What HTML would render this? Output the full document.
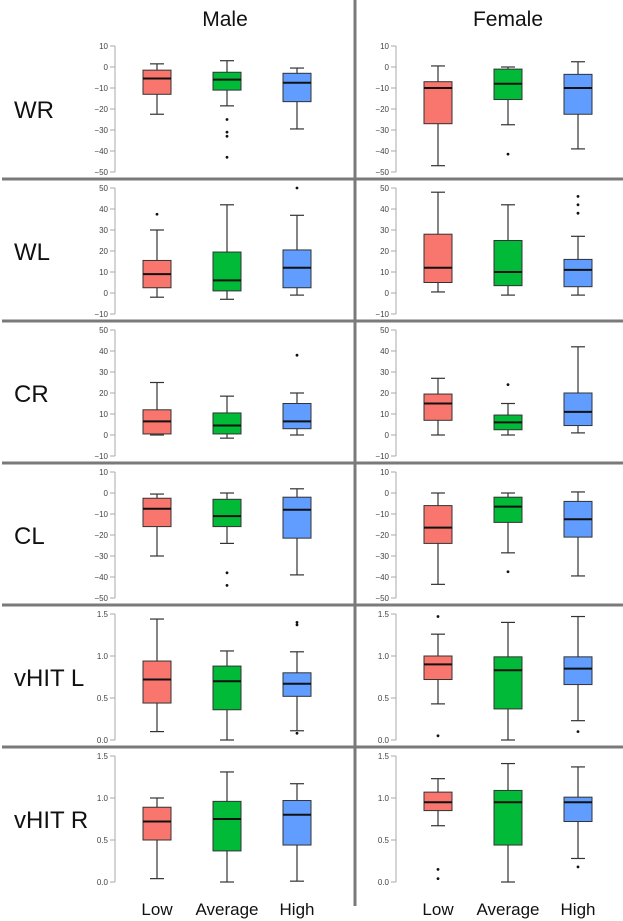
<!DOCTYPE html>
<html><head><meta charset="utf-8"><style>
html,body{margin:0;padding:0;background:#fff;}
svg{display:block;font-family:"Liberation Sans",Arial,sans-serif;}
</style></head><body>
<svg id="chart" width="623" height="921" viewBox="0 0 623 921" xmlns="http://www.w3.org/2000/svg"></svg>
<script>
const sexes = ["Male","Female"];
const measures = ["WR","WL","CR","CL","vHIT L","vHIT R"];
const groups = ["Low","Average","High"];
const colors = ["#F8766D","#00BA38","#619CFF"];
const domains = [[-50,10],[-10,50],[-10,50],[-50,10],[0,1.5],[0,1.5]];
const tickSets = [[-50,-40,-30,-20,-10,0,10],[-10,0,10,20,30,40,50],[-10,0,10,20,30,40,50],[-50,-40,-30,-20,-10,0,10],[0,0.5,1,1.5],[0,0.5,1,1.5]];
// [whiskerLow, q1, median, q3, whiskerHigh, outliers]
const maleStats = [
 [[-22.5,-13,-5.5,-1.5,1.5,[]],[-18.5,-11,-6,-2.5,3,[-25,-31,-33,-43]],[-29.5,-16.5,-7.5,-3,-0.5,[]]],
 [[-2,2.5,9,15.5,30,[37.5]],[-3,1,6,19.5,42,[]],[-1,2.5,12,20.5,37,[50]]],
 [[0,0.5,6.5,12,25,[]],[-1.5,0.5,4.5,10.5,18.5,[]],[0,3,6.5,15,20,[38]]],
 [[-30,-16,-7.5,-2.5,-0.5,[]],[-24,-16,-11,-3,0,[-38,-44]],[-39,-21.5,-8,-2,2,[]]],
 [[0.1,0.44,0.72,0.94,1.44,[]],[0,0.36,0.70,0.88,1.06,[]],[0.11,0.52,0.67,0.80,1.05,[1.37,1.40,0.08]]],
 [[0.04,0.5,0.72,0.89,1.0,[]],[0,0.37,0.75,0.96,1.31,[]],[0.01,0.44,0.80,0.97,1.17,[]]]
];
const femaleStats = [
 [[-47,-27,-10,-7,0.5,[]],[-27.5,-15.5,-8,-1,0,[-41.5]],[-39,-22.5,-10,-3.5,2.5,[]]],
 [[0.5,5,12,28,48,[]],[-1,3.5,10,25,42,[]],[-1,3,11,16,27,[38,42,46]]],
 [[0,7,15,19.5,27,[]],[0,2.5,6,9.5,15,[24]],[1,4.5,11,20,42,[]]],
 [[-43.5,-24,-16.5,-6,0,[]],[-28.5,-14,-6.5,-2,0,[-37.5]],[-39.5,-21,-12.5,-4,0.5,[]]],
 [[0.43,0.72,0.90,1.0,1.26,[1.47,0.05]],[0,0.37,0.83,0.99,1.40,[]],[0.23,0.66,0.85,0.99,1.47,[0.10]]],
 [[0.67,0.85,0.95,1.07,1.23,[0.15,0.04]],[0,0.44,0.95,1.09,1.41,[]],[0.28,0.72,0.95,1.01,1.37,[0.18]]]
];
const allStats = [maleStats, femaleStats];

const svg = document.getElementById('chart');
const NS = 'http://www.w3.org/2000/svg';
function mk(tag, attrs, parent, text){
  const e = document.createElementNS(NS, tag);
  for (const k in attrs) e.setAttribute(k, attrs[k]);
  if (text !== undefined) e.textContent = text;
  (parent||svg).appendChild(e);
  return e;
}
const ROW0 = 46, ROWSTEP = 142, ROWH = 126;
const AXIS_X = [115, 396];
const BOX_X = [[157,227,297],[438,508,578]];
const BW = 28;
function yScale(r, v){
  const d = domains[r];
  return ROW0 + r*ROWSTEP + ROWH - (v - d[0])/(d[1]-d[0])*ROWH;
}
function fmt(r, v){
  if (r >= 4) return v.toFixed(1);
  return v < 0 ? '\u2212' + Math.abs(v) : String(v);
}

// titles
sexes.forEach((s, si) => {
  const t = mk('text', {x: si===0?225:508, y: 26, 'text-anchor':'middle', 'font-size':21, fill:'#111'}, svg, s);
  
  
});
// row labels
measures.forEach((m, r) => {
  const t = mk('text', {x: 14, y: ROW0 + r*ROWSTEP + 72, 'font-size':24, fill:'#111'}, svg, m);
  
  
});

for (let si = 0; si < 2; si++){
  for (let r = 0; r < 6; r++){
    const g = mk('g', {});
    
    
    const ax = AXIS_X[si];
    const ticks = tickSets[r];
    const axl = mk('line', {x1:ax, x2:ax, y1:yScale(r, ticks[0]), y2:yScale(r, ticks[ticks.length-1]), stroke:'#aaa', 'stroke-width':1}, g);
    
    
    ticks.forEach(tv => {
      const y = yScale(r, tv);
      mk('line', {x1:ax-5, x2:ax, y1:y, y2:y, stroke:'#aaa', 'stroke-width':1}, g);
      const tl = mk('text', {x: ax-7, y: y+3, 'text-anchor':'end', 'font-size':8, fill:'#444'}, g, fmt(r, tv));
      
      
    });
    const stats = allStats[si][r];
    stats.forEach((s, gi) => {
      const cx = BOX_X[si][gi];
      const bg = mk('g', {}, g);
      
      
      const [lo, q1, med, q3, hi, outs] = s;
      mk('line', {x1:cx, x2:cx, y1:yScale(r,hi), y2:yScale(r,q3), stroke:'#333', 'stroke-width':1.2}, bg);
      mk('line', {x1:cx, x2:cx, y1:yScale(r,q1), y2:yScale(r,lo), stroke:'#333', 'stroke-width':1.2}, bg);
      mk('line', {x1:cx-7, x2:cx+7, y1:yScale(r,hi), y2:yScale(r,hi), stroke:'#333', 'stroke-width':1.2}, bg);
      mk('line', {x1:cx-7, x2:cx+7, y1:yScale(r,lo), y2:yScale(r,lo), stroke:'#333', 'stroke-width':1.2}, bg);
      mk('rect', {x:cx-BW/2, y:yScale(r,q3), width:BW, height:yScale(r,q1)-yScale(r,q3), fill:colors[gi], stroke:'#333', 'stroke-width':1}, bg);
      mk('line', {x1:cx-BW/2, x2:cx+BW/2, y1:yScale(r,med), y2:yScale(r,med), stroke:'#111', 'stroke-width':2}, bg);
      outs.forEach(o => {
        const c = mk('circle', {cx:cx, cy:yScale(r,o), r:1.4, fill:'#111'}, bg);
        
        
      });
    });
  }
}
// separators
for (let k = 0; k < 5; k++){
  const y = 179 + k*ROWSTEP;
  const l = mk('line', {x1:2, x2:623, y1:y, y2:y, stroke:'#7a7a7a', 'stroke-width':3});
  
  
}
const vl = mk('line', {x1:355, x2:355, y1:0, y2:906, stroke:'#7a7a7a', 'stroke-width':3});


// x labels
for (let si = 0; si < 2; si++){
  groups.forEach((gname, gi) => {
    const t = mk('text', {x: BOX_X[si][gi], y: 915, 'text-anchor':'middle', 'font-size':17, fill:'#111'}, svg, gname);
    
    
  });
}
</script>
</body></html>
